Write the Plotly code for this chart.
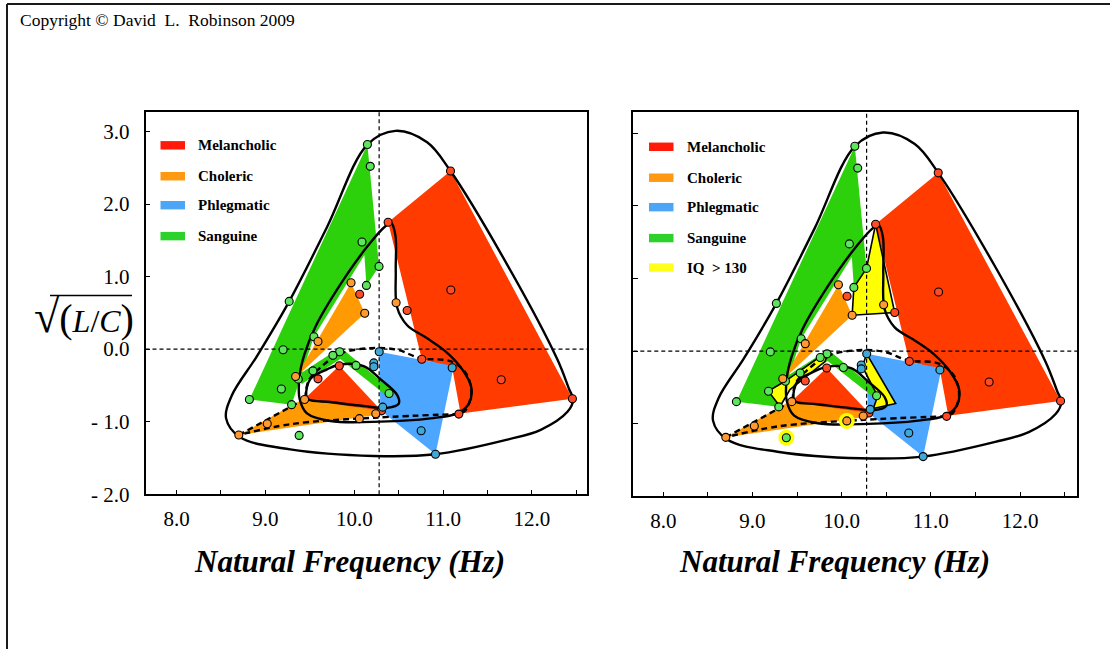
import plotly.graph_objects as go

W, H = 1110, 661
FONT = "Liberation Serif"

# ---------------- data: natural frequency (Hz) vs sqrt(L/C) ----------------
san_x = [10.148, 10.18, 10.087, 10.279, 10.137, 9.268, 9.546, 9.20, 9.836, 9.76, 10.02, 9.535, 9.37, 9.18, 8.82, 9.295, 10.392, 9.38]
san_y = [2.82, 2.52, 1.477, 1.14, 0.878, 0.658, 0.171, -0.009, -0.036, -0.086, -0.225, -0.30, -0.414, -0.55, -0.694, -0.766, -0.613, -1.19]
mel_x = [11.083, 10.381, 10.061, 10.595, 11.087, 11.654, 12.455, 11.177, 10.76, 9.832, 9.592, 10.306]
mel_y = [2.455, 1.748, 0.757, 0.532, 0.815, -0.423, -0.685, -0.896, -0.14, -0.23, -0.41, -0.851]
cho_x = [9.964, 10.118, 9.592, 9.34, 9.441, 8.701, 9.021, 10.058, 10.242, 10.471]
cho_y = [0.914, 0.495, 0.104, -0.378, -0.694, -1.185, -1.03, -0.959, -0.892, 0.64]
phl_x = [10.281, 10.22, 10.22, 11.102, 10.753, 10.914, 10.32]
phl_y = [-0.036, -0.19, -0.243, -0.257, -1.126, -1.45, -0.80]
iq_x = [9.38, 10.058]
iq_y = [-1.19, -0.959]

# shaded regions (vertices)
san_big_x = [10.148, 10.279, 10.137, 10.114, 9.546, 9.295, 8.821]
san_big_y = [2.82, 1.14, 0.878, 1.297, 0.171, -0.766, -0.694]
san_chev_x = [9.355, 9.806, 9.888, 10.426, 10.40, 9.843, 9.411]
san_chev_y = [-0.369, -0.009, -0.018, -0.572, -0.676, -0.135, -0.482]
mel_big_x = [10.381, 11.083, 12.455, 11.196, 11.102, 10.76]
mel_big_y = [1.748, 2.455, -0.685, -0.887, -0.257, -0.14]
mel_small_x = [9.832, 9.43, 10.306]
mel_small_y = [-0.23, -0.698, -0.851]
cho_up_x = [9.964, 10.118, 9.34]
cho_up_y = [0.914, 0.495, -0.392]
cho_low_x = [8.701, 9.43, 10.306, 10.242]
cho_low_y = [-1.185, -0.685, -0.851, -0.91]
phl_reg_x = [10.281, 11.12, 10.914, 10.294]
phl_reg_y = [-0.036, -0.234, -1.45, -0.842]
iq_up_x = [10.381, 10.595, 10.118, 10.137, 10.279]
iq_up_y = [1.748, 0.532, 0.495, 0.878, 1.14]
iq_lr_x = [10.281, 10.606, 10.355, 10.404, 10.232]
iq_lr_y = [-0.036, -0.72, -0.788, -0.617, -0.211]
iq_ll_x = [9.178, 9.365, 9.757, 9.85, 9.813, 9.421, 9.309]
iq_ll_y = [-0.549, -0.414, -0.076, -0.022, -0.143, -0.527, -0.761]

# contour curves
outer_x = [10.219, 9.28, 8.716, 8.558, 8.622, 8.904, 9.268, 9.693, 10.148, 10.463, 10.82, 11.083, 11.722, 12.286, 12.417, 12.463, 12.399, 12.098, 11.722, 10.914, 10.219]
outer_y = [-1.473, -1.383, -1.216, -0.955, -0.64, -0.099, 0.658, 1.68, 2.82, 3.009, 2.851, 2.455, 1.162, -0.144, -0.55, -0.698, -0.865, -1.113, -1.248, -1.45, -1.473]
mid_x = [10.414, 10.463, 10.467, 10.482, 10.595, 10.82, 11.027, 11.215, 11.317, 11.29, 11.159, 10.858, 10.294, 9.731, 9.468, 9.385, 9.385, 9.438, 9.562, 9.844, 10.144, 10.35, 10.414]
mid_y = [1.739, 1.568, 1.072, 0.577, 0.329, 0.149, -0.032, -0.279, -0.527, -0.752, -0.887, -0.955, -1.0, -0.991, -0.887, -0.685, -0.369, -0.077, 0.306, 0.892, 1.41, 1.694, 1.739]
small_x = [10.106, 9.731, 9.486, 9.46, 9.505, 9.693, 9.843, 10.106, 10.294, 10.482, 10.501, 10.37, 10.106]
small_y = [-0.784, -0.73, -0.694, -0.64, -0.414, -0.279, -0.212, -0.234, -0.414, -0.631, -0.752, -0.811, -0.784]
dash_bot_x = [11.177, 10.219, 9.279, 8.701]
dash_bot_y = [-0.896, -0.946, -1.036, -1.185]
dash_left_x = [8.701, 9.449]
dash_left_y = [-1.185, -0.685]
dash_top_x = [9.449, 9.486, 9.618, 9.843, 10.182, 10.482, 10.745, 11.083, 11.252, 11.317, 11.252, 11.177]
dash_top_y = [-0.685, -0.437, -0.257, -0.063, 0.014, -0.009, -0.126, -0.167, -0.324, -0.595, -0.842, -0.896]

ref_x = 10.28
ref_y = 0.0

x_ticks = [8, 9, 10, 11, 12]
x_labels = ["8.0", "9.0", "10.0", "11.0", "12.0"]
x_minor = [8.5, 9.5, 10.5, 11.5, 12.5]
y_ticks = [-2, -1, 0, 1, 2, 3]
y_labels = ["- 2.0", "- 1.0", "0.0", "1.0", "2.0", "3.0"]

legend_names = ["Melancholic", "Choleric", "Phlegmatic", "Sanguine", "IQ\u00a0\u00a0> 130"]
legend_colors = ["#FF1A0A", "#FF9912", "#4DA6F5", "#2CD12C", "#FFFF1A"]

C_GREEN, C_RED, C_ORANGE, C_BLUE, C_YEL = "#2CD10C", "#FF3B00", "#FF9A05", "#4DA6FF", "#FFFF00"
M_GREEN, M_RED, M_ORANGE, M_BLUE = "#5BE65B", "#FF4A26", "#FF9A33", "#3EA9D6"

fig = go.Figure()

panels = [dict(xa="x", ya="y", xr=[7.651, 12.619], yr=[-2.0, 3.27], iq=False),
          dict(xa="x2", ya="y2", xr=[7.664, 12.639], yr=[-1.99, 3.293], iq=True)]


def poly(xs, ys, color, xa, ya, outline=False):
    fig.add_trace(go.Scatter(
        x=list(xs) + [xs[0]], y=list(ys) + [ys[0]], fill="toself", fillcolor=color,
        mode="lines", line=dict(color="black" if outline else color, width=1.6 if outline else 0),
        xaxis=xa, yaxis=ya, hoverinfo="skip", showlegend=False))


def curve(xs, ys, xa, ya, dash="solid", shape="spline", width=2.4):
    fig.add_trace(go.Scatter(
        x=xs, y=ys, mode="lines", line=dict(color="black", width=width, dash=dash, shape=shape, smoothing=1.0),
        xaxis=xa, yaxis=ya, hoverinfo="skip", showlegend=False))


def pts(xs, ys, color, xa, ya, size=8, lw=1.1):
    fig.add_trace(go.Scatter(
        x=xs, y=ys, mode="markers",
        marker=dict(size=size, color=color, line=dict(color="black", width=lw)),
        xaxis=xa, yaxis=ya, hoverinfo="skip", showlegend=False, cliponaxis=False))


for p in panels:
    xa, ya = p["xa"], p["ya"]
    poly(san_big_x, san_big_y, C_GREEN, xa, ya)
    poly(mel_big_x, mel_big_y, C_RED, xa, ya)
    poly(cho_up_x, cho_up_y, C_ORANGE, xa, ya)
    poly(cho_low_x, cho_low_y, C_ORANGE, xa, ya)
    poly(mel_small_x, mel_small_y, C_RED, xa, ya)
    poly(phl_reg_x, phl_reg_y, C_BLUE, xa, ya)
    poly(san_chev_x, san_chev_y, C_GREEN, xa, ya)
    if p["iq"]:
        poly(iq_up_x, iq_up_y, C_YEL, xa, ya, outline=True)
        poly(iq_lr_x, iq_lr_y, C_YEL, xa, ya, outline=True)
        poly(iq_ll_x, iq_ll_y, C_YEL, xa, ya, outline=True)
    curve(outer_x, outer_y, xa, ya)
    curve(mid_x, mid_y, xa, ya)
    curve(small_x, small_y, xa, ya)
    curve(dash_bot_x, dash_bot_y, xa, ya, dash="6px,4px")
    curve(dash_left_x, dash_left_y, xa, ya, dash="6px,4px", shape="linear")
    curve(dash_top_x, dash_top_y, xa, ya, dash="6px,4px")
    # reference lines
    curve([ref_x, ref_x], p["yr"], xa, ya, dash="4px,3px", shape="linear", width=1.2)
    curve(p["xr"], [ref_y, ref_y], xa, ya, dash="4px,3px", shape="linear", width=1.2)
    if p["iq"]:
        fig.add_trace(go.Scatter(x=iq_x, y=iq_y, mode="markers",
                                 marker=dict(size=16, color=C_YEL, line=dict(width=0)),
                                 xaxis=xa, yaxis=ya, hoverinfo="skip", showlegend=False))
    pts(san_x, san_y, M_GREEN, xa, ya)
    pts(mel_x, mel_y, M_RED, xa, ya)
    pts(cho_x, cho_y, M_ORANGE, xa, ya)
    pts(phl_x, phl_y, M_BLUE, xa, ya)


def px(x):
    return x / W


def py(y):
    return 1 - y / H


axis_common = dict(showline=True, mirror=True, linecolor="black", linewidth=1.5,
                   ticks="inside", ticklen=5, tickcolor="black", tickwidth=1.2,
                   showgrid=False, zeroline=False,
                   tickfont=dict(family=FONT, size=21, color="black"))

xcommon = dict(axis_common, tickmode="array", tickvals=x_ticks, ticktext=x_labels, ticklen=4,
               minor=dict(tickmode="array", tickvals=x_minor, ticks="inside",
                          ticklen=4, tickcolor="black", showgrid=False),
               ticklabelstandoff=5)

fig.update_layout(
    width=W, height=H, autosize=False, margin=dict(l=0, r=0, t=0, b=0),
    paper_bgcolor="white", plot_bgcolor="white", showlegend=False,
    xaxis=dict(xcommon, domain=[px(145.5), px(587)], range=panels[0]["xr"], anchor="y"),
    yaxis=dict(axis_common, domain=[py(503.3), py(114)], range=panels[0]["yr"], anchor="x",
               tickmode="array", tickvals=y_ticks, ticktext=y_labels, ticklabelstandoff=10),
    xaxis2=dict(xcommon, domain=[px(633.3), px(1077)], range=panels[1]["xr"], anchor="y2"),
    yaxis2=dict(axis_common, domain=[py(505), py(114)], range=panels[1]["yr"], anchor="x2",
                tickmode="array", tickvals=y_ticks, showticklabels=False),
)

shapes = []
annotations = []

# page frame (top and left edges)
shapes.append(dict(type="line", xref="paper", yref="paper", x0=px(7), x1=1.0, y0=py(4), y1=py(4),
                   line=dict(color="#1a1a1a", width=2)))
shapes.append(dict(type="line", xref="paper", yref="paper", x0=px(7), x1=px(7), y0=py(4), y1=0,
                   line=dict(color="#1a1a1a", width=2)))

# legends
leg_left_y = [148, 179.5, 209, 240.5]
leg_right_y = [149.5, 181, 211, 242.5, 272.5]
for names_n, ys, sx0, tx in [(4, leg_left_y, 160.5, 196), (5, leg_right_y, 649, 685)]:
    for i in range(names_n):
        yc = ys[i]
        shapes.append(dict(type="rect", xref="paper", yref="paper",
                           x0=px(sx0), x1=px(sx0 + 24.5), y0=py(yc + 4.3), y1=py(yc - 4.3),
                           fillcolor=legend_colors[i], line=dict(width=0)))
        annotations.append(dict(text="<b>%s</b>" % legend_names[i], xref="paper", yref="paper",
                                x=px(tx), y=py(yc), xanchor="left", yanchor="middle", showarrow=False,
                                font=dict(family=FONT, size=15, color="black")))

# copyright
annotations.append(dict(text="Copyright \u00a9 David  L.  Robinson 2009", xref="paper", yref="paper",
                        x=px(18), y=py(20), xanchor="left", yanchor="middle", showarrow=False,
                        font=dict(family=FONT, size=17.5, color="black")))
# x-axis titles
for cx in [349, 834.5]:
    annotations.append(dict(text="<b><i>Natural Frequency (Hz)</i></b>", xref="paper", yref="paper",
                            x=px(cx), y=py(572), xanchor="center", yanchor="middle", showarrow=False,
                            font=dict(family=FONT, size=31, color="black")))
# y-axis title: sqrt(L/C) as one text
annotations.append(dict(
    text='<span style="font-size:46px">\u221a</span><span style="font-size:40px">(</span>'
         '<i>L</i>/<i>C</i><span style="font-size:40px">)</span>',
    xref="paper", yref="paper", x=px(84), y=py(322),
    xanchor="center", yanchor="middle", showarrow=False,
    font=dict(family=FONT, size=32, color="black")))
shapes.append(dict(type="line", xref="paper", yref="paper", x0=px(50), x1=px(132), y0=py(301), y1=py(301),
                   line=dict(color="black", width=1.6)))

fig.update_layout(shapes=shapes, annotations=annotations)
fig.write_html("out.html", config={"responsive": False})
